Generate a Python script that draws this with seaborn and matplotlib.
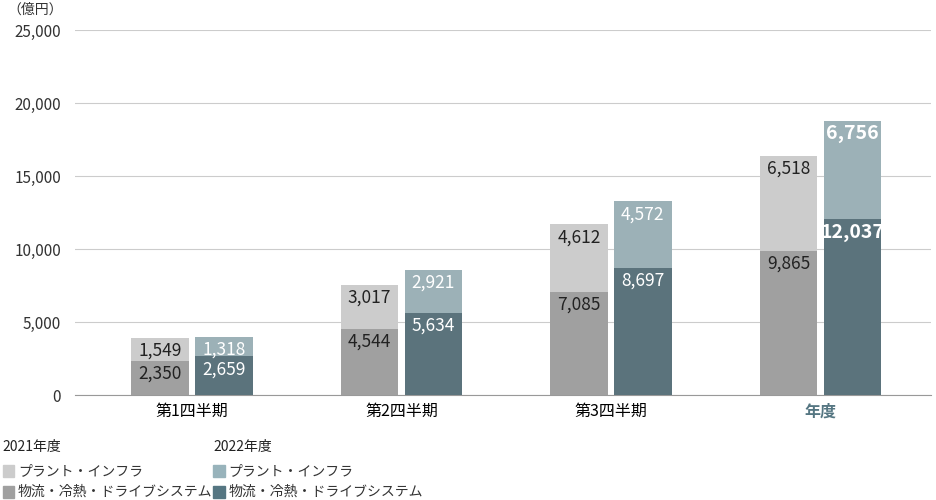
import pandas as pd
import seaborn as sns
import matplotlib.pyplot as plt
from matplotlib.patches import Rectangle

plt.rcParams['font.family'] = 'Noto Sans CJK JP'

# データ
periods = ['第1四半期', '第2四半期', '第3四半期', '年度']
years = ['2021年度', '2022年度']
logistics_2021 = [2350, 4544, 7085, 9865]
plant_2021 = [1549, 3017, 4612, 6518]
logistics_2022 = [2659, 5634, 8697, 12037]
plant_2022 = [1318, 2921, 4572, 6756]

rows = []
for i, p in enumerate(periods):
    rows.append([p, years[0], logistics_2021[i], plant_2021[i]])
    rows.append([p, years[1], logistics_2022[i], plant_2022[i]])
df = pd.DataFrame(rows, columns=['period', 'year', 'logistics', 'plant'])
df['total'] = df['logistics'] + df['plant']

light = ['#cccccc', '#98b3bb']
dark = ['#a0a0a0', '#557682']

fig = plt.figure(figsize=(9.36, 5), dpi=100)
ax = fig.add_axes([0.08, 0.21, 0.915, 0.73])

sns.barplot(data=df, x='period', y='total', hue='year', palette=light,
            width=0.61, gap=0.1, ax=ax, legend=False, zorder=2)
sns.barplot(data=df, x='period', y='logistics', hue='year', palette=dark,
            width=0.61, gap=0.1, ax=ax, legend=False, zorder=3)

# ラベル（各セグメントの上端付近）
n = len(periods)
for k, cont in enumerate(ax.containers):
    year_idx = k % 2
    is_top = k < 2
    for j, bar in enumerate(cont):
        x = bar.get_x() + bar.get_width() / 2
        top = bar.get_height()
        if is_top:
            val = (plant_2021 if year_idx == 0 else plant_2022)[j]
        else:
            val = (logistics_2021 if year_idx == 0 else logistics_2022)[j]
        color = '#222222' if year_idx == 0 else 'white'
        bold = (year_idx == 1 and j == n - 1)
        ax.annotate(f'{val:,}', (x, top), xytext=(0, -13), textcoords='offset points'
                    if False else 'offset pixels', ha='center', va='center', color=color,
                    fontsize=14 if bold else 12.5,
                    fontweight='bold' if bold else 'normal', zorder=4)

ax.set_ylim(0, 25000)
ax.set_xlim(-0.56, 3.53)
ax.set_yticks(range(0, 25001, 5000))
ax.set_yticklabels([f'{v:,}' for v in range(0, 25001, 5000)], fontsize=11, color='#333333')
ax.yaxis.grid(True, color='#cccccc', linewidth=0.8, zorder=0)
ax.set_axisbelow(True)
for s in ['top', 'right', 'left']:
    ax.spines[s].set_visible(False)
ax.spines['bottom'].set_color('#999999')
ax.tick_params(axis='y', length=0, pad=10)
ax.tick_params(axis='x', length=0, labelsize=11.5, pad=6)
ax.set_xlabel('')
ax.set_ylabel('')
for lab in ax.get_xticklabels():
    if lab.get_text() == '年度':
        lab.set_color('#557682')
        lab.set_fontweight('bold')
fig.text(0.008, 0.995, '（億円）', fontsize=10, va='top', color='#333333')

# 凡例
leg_items = [
    (0.003, 0.105, '2021年度', None),
    (0.003, 0.058, 'プラント・インフラ', light[0]),
    (0.003, 0.016, '物流・冷熱・ドライブシステム', dark[0]),
    (0.228, 0.105, '2022年度', None),
    (0.228, 0.058, 'プラント・インフラ', light[1]),
    (0.228, 0.016, '物流・冷熱・ドライブシステム', dark[1]),
]
for x0, yy, txt, c in leg_items:
    if c is None:
        fig.text(x0, yy, txt, fontsize=10, va='center', color='#222222')
    else:
        fig.add_artist(Rectangle((x0, yy - 0.012), 0.012, 0.024,
                                 transform=fig.transFigure, color=c))
        fig.text(x0 + 0.016, yy, txt, fontsize=10, va='center', color='#333333')

fig.savefig('out.png', dpi=100)
